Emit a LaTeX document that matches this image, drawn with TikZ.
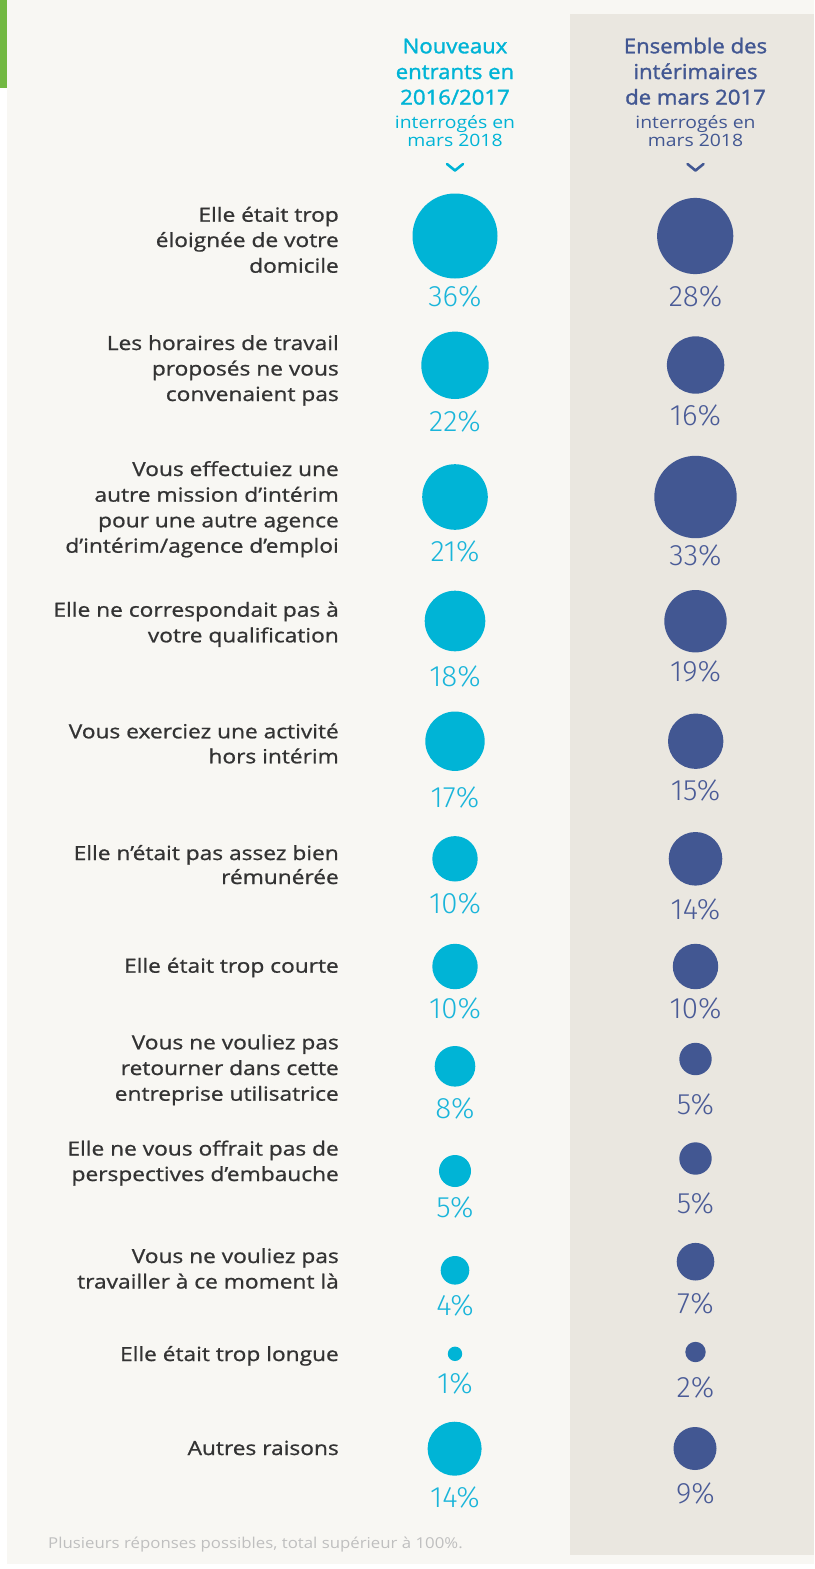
\documentclass[tikz,border=0pt]{standalone}
\usepackage{fontspec}
\setmainfont{Open Sans}[FakeStretch=1.165, FakeBold=0.9]
\newfontfamily\pctfont{Fira Sans Light}
\newfontfamily\headfont{Open Sans}[FakeStretch=1.08, FakeBold=1.5]
\newfontfamily\subfont{Open Sans}[FakeStretch=1.14]
\newfontfamily\footfont{Open Sans}[FakeStretch=1.12]
\definecolor{bgc}{HTML}{F8F7F3}
\definecolor{panelc}{HTML}{EAE7E0}
\definecolor{greenc}{HTML}{72B842}
\definecolor{cyanc}{HTML}{00B4D6}
\definecolor{navyc}{HTML}{425792}
\definecolor{cyant}{HTML}{1AB5DA}
\definecolor{navyt}{HTML}{4A5B97}
\definecolor{labc}{HTML}{333333}
\definecolor{footc}{HTML}{BFBFBF}
\begin{document}
\begin{tikzpicture}[x=1pt,y=-1pt,
  lab/.style={anchor=base east, inner sep=0, text=labc, font=\fontsize{19.5}{25.5}\selectfont},
  headA/.style={anchor=base, inner sep=0, text=cyanc, font=\headfont\fontsize{20.5}{25}\selectfont},
  headB/.style={anchor=base, inner sep=0, text=navyc, font=\headfont\fontsize{20.5}{25}\selectfont},
  subA/.style={anchor=base, inner sep=0, text=cyanc, font=\subfont\fontsize{17}{18}\selectfont},
  subB/.style={anchor=base, inner sep=0, text=navyc, font=\subfont\fontsize{17}{18}\selectfont},
  dotA/.style={circle, fill=cyanc, draw=none, inner sep=0, minimum size=#1pt},
  dotB/.style={circle, fill=navyc, draw=none, inner sep=0, minimum size=#1pt},
  pctA/.style={inner sep=0, text=cyant, font=\pctfont\fontsize{29.5}{30}\selectfont},
  pctB/.style={inner sep=0, text=navyt, font=\pctfont\fontsize{29.5}{30}\selectfont},
  chev/.style={line width=2.6pt, line cap=round, line join=round}
]
\useasboundingbox (0,0) rectangle (814,1569);
% backgrounds
\fill[white] (0,0) rectangle (814,1569);
\fill[bgc] (7,0) rectangle (814,1564);
\fill[greenc] (0,0) rectangle (7,88);
\fill[panelc] (570,14) rectangle (814,1555);

% headers
\node[headA] (hA1) at (455,53.3) {Nouveaux};
\node[headA] (hA2) at (455,79) {entrants en};
\node[headA] (hA3) at (455,104.5) {2016/2017};
\node[subA] (sA1) at (455,128) {interrogés en};
\node[subA] (sA2) at (455,146.7) {mars 2018};
\draw[chev, cyanc] (447,164) -- (455,170.5) -- (463,164);

\node[headB] (hB1) at (695.5,53.3) {Ensemble des};
\node[headB] (hB2) at (695.5,79) {intérimaires};
\node[headB] (hB3) at (695.5,104.5) {de mars 2017};
\node[subB] (sB1) at (695.5,128) {interrogés en};
\node[subB] (sB2) at (695.5,146.7) {mars 2018};
\draw[chev, navyc] (687.5,164) -- (695.5,170.5) -- (703.5,164);

% row 1
\node[lab] (l1a) at (339,221.7) {Elle était trop};
\node[lab] (l1b) at (339,247) {éloignée de votre};
\node[lab] (l1c) at (339,272.7) {domicile};
\node[dotA=85] (a1) at (455,236) {};
\node[dotB=76.2] (b1) at (695.2,236) {};
\node[pctA] (pa1) at (455,296.3) {36\%};
\node[pctB] (pb1) at (695.5,296.3) {28\%};

% row 2
\node[lab] (l2a) at (339,350) {Les horaires de travail};
\node[lab] (l2b) at (339,375.5) {proposés ne vous};
\node[lab] (l2c) at (339,401) {convenaient pas};
\node[dotA=67.4] (a2) at (455,365.3) {};
\node[dotB=57.4] (b2) at (695.6,365) {};
\node[pctA] (pa2) at (455,421) {22\%};
\node[pctB] (pb2) at (695.5,415.5) {16\%};

% row 3
\node[lab] (l3a) at (339,476) {Vous effectuiez une};
\node[lab] (l3b) at (339,501.7) {autre mission d’intérim};
\node[lab] (l3c) at (339,527.3) {pour une autre agence};
\node[lab] (l3d) at (339,552.7) {d’intérim/agence d’emploi};
\node[dotA=65.6] (a3) at (455,497) {};
\node[dotB=82.4] (b3) at (695.5,497) {};
\node[pctA] (pa3) at (455,551.5) {21\%};
\node[pctB] (pb3) at (695.5,555.5) {33\%};

% row 4
\node[lab] (l4a) at (339,616.7) {Elle ne correspondait pas à};
\node[lab] (l4b) at (339,642.3) {votre qualification};
\node[dotA=60.6] (a4) at (455,621) {};
\node[dotB=62.4] (b4) at (695.5,621.2) {};
\node[pctA] (pa4) at (455,676.3) {18\%};
\node[pctB] (pb4) at (695.5,671.3) {19\%};

% row 5
\node[lab] (l5a) at (339,738.3) {Vous exerciez une activité};
\node[lab] (l5b) at (339,763.3) {hors intérim};
\node[dotA=59.4] (a5) at (455,741.2) {};
\node[dotB=55.4] (b5) at (695.7,741.2) {};
\node[pctA] (pa5) at (455,797.5) {17\%};
\node[pctB] (pb5) at (695.5,790.5) {15\%};

% row 6
\node[lab] (l6a) at (339,860) {Elle n’était pas assez bien};
\node[lab] (l6b) at (339,884) {rémunérée};
\node[dotA=45.4] (a6) at (455,858.8) {};
\node[dotB=53.6] (b6) at (695.5,858.8) {};
\node[pctA] (pa6) at (455,903.5) {10\%};
\node[pctB] (pb6) at (695.5,909.5) {14\%};

% row 7
\node[lab] (l7a) at (339,972.7) {Elle était trop courte};
\node[dotA=45.4] (a7) at (455,966.5) {};
\node[dotB=45.4] (b7) at (695.5,966.5) {};
\node[pctA] (pa7) at (455,1008.5) {10\%};
\node[pctB] (pb7) at (695.5,1008.5) {10\%};

% row 8
\node[lab] (l8a) at (339,1049.3) {Vous ne vouliez pas};
\node[lab] (l8b) at (339,1075) {retourner dans cette};
\node[lab] (l8c) at (339,1100.7) {entreprise utilisatrice};
\node[dotA=40.6] (a8) at (455,1066.3) {};
\node[dotB=32.4] (b8) at (695.5,1059) {};
\node[pctA] (pa8) at (455,1108) {8\%};
\node[pctB] (pb8) at (695.5,1104) {5\%};

% row 9
\node[lab] (l9a) at (339,1155.5) {Elle ne vous offrait pas de};
\node[lab] (l9b) at (339,1181) {perspectives d’embauche};
\node[dotA=32] (a9) at (455,1171) {};
\node[dotB=32.4] (b9) at (695.5,1158.5) {};
\node[pctA] (pa9) at (455,1207) {5\%};
\node[pctB] (pb9) at (695.5,1203.5) {5\%};

% row 10
\node[lab] (l10a) at (339,1263) {Vous ne vouliez pas};
\node[lab] (l10b) at (339,1288.5) {travailler à ce moment là};
\node[dotA=28.6] (a10) at (455,1270.3) {};
\node[dotB=37.6] (b10) at (695.5,1261.7) {};
\node[pctA] (pa10) at (455,1305.5) {4\%};
\node[pctB] (pb10) at (695.5,1303) {7\%};

% row 11
\node[lab] (l11a) at (339,1361) {Elle était trop longue};
\node[dotA=14.4] (a11) at (455,1353.8) {};
\node[dotB=20.4] (b11) at (695.5,1352) {};
\node[pctA] (pa11) at (455,1383) {1\%};
\node[pctB] (pb11) at (695.5,1387) {2\%};

% row 12
\node[lab] (l12a) at (339,1455) {Autres raisons};
\node[dotA=54] (a12) at (454.6,1448.7) {};
\node[dotB=43] (b12) at (695,1448.5) {};
\node[pctA] (pa12) at (455,1497) {14\%};
\node[pctB] (pb12) at (695.5,1493) {9\%};

% footer
\node[anchor=base west, inner sep=0, text=footc, font=\footfont\fontsize{15}{16}\selectfont] (foot) at (48,1548.5) {Plusieurs réponses possibles, total supérieur à 100\%.};
\end{tikzpicture}
\end{document}
